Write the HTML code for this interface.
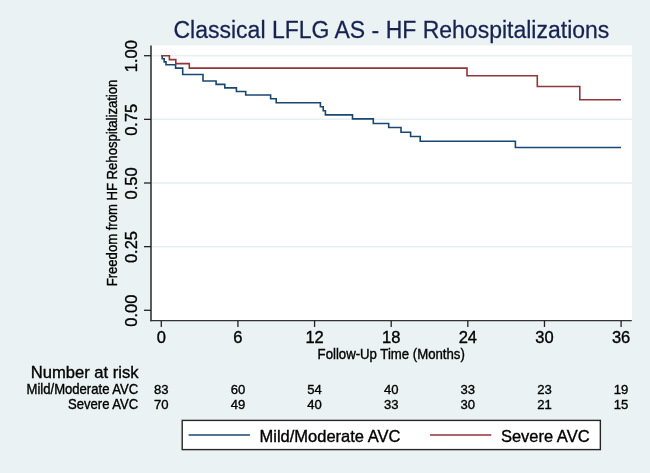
<!DOCTYPE html>
<html><head><meta charset="utf-8">
<style>
html,body{margin:0;padding:0;background:#eaf2f3;}
body{width:650px;height:473px;overflow:hidden;}
svg{display:block;will-change:transform;}
text{font-family:"Liberation Sans",sans-serif;fill:#000;stroke:#000;stroke-width:0.35px;}
</style></head>
<body>
<svg width="650" height="473" viewBox="0 0 650 473">
<rect x="0" y="0" width="650" height="473" fill="#eaf2f3"/>
<text transform="translate(173.5,38.4) scale(1,1.05)" font-size="23" style="fill:#16224f;stroke:#16224f;stroke-width:0.25px">Classical LFLG AS - HF Rehospitalizations</text>
<rect x="151.5" y="45.5" width="480.5" height="274.9" fill="#fff"/>
<g stroke="#e6eff1" stroke-width="1.5">
<line x1="152" y1="246.65" x2="632" y2="246.65"/>
<line x1="152" y1="183.00" x2="632" y2="183.00"/>
<line x1="152" y1="119.35" x2="632" y2="119.35"/>
<line x1="152" y1="55.70" x2="632" y2="55.70"/>
</g>
<g stroke="#222" stroke-width="1.3" fill="none">
<line x1="151" y1="45.5" x2="151" y2="321.3" stroke-width="1.5" stroke="#2a2a2a"/>
<line x1="150.3" y1="320.7" x2="631.8" y2="320.7" stroke="#333"/>
<line x1="144" y1="310.30" x2="151" y2="310.30"/>
<line x1="144" y1="246.65" x2="151" y2="246.65"/>
<line x1="144" y1="183.00" x2="151" y2="183.00"/>
<line x1="144" y1="119.35" x2="151" y2="119.35"/>
<line x1="144" y1="55.70" x2="151" y2="55.70"/>
<line x1="161.30" y1="320.4" x2="161.30" y2="327"/>
<line x1="237.93" y1="320.4" x2="237.93" y2="327"/>
<line x1="314.57" y1="320.4" x2="314.57" y2="327"/>
<line x1="391.20" y1="320.4" x2="391.20" y2="327"/>
<line x1="467.83" y1="320.4" x2="467.83" y2="327"/>
<line x1="544.47" y1="320.4" x2="544.47" y2="327"/>
<line x1="621.10" y1="320.4" x2="621.10" y2="327"/>
</g>
<text transform="translate(137.1,310.7) rotate(-90)" font-size="16.5" text-anchor="middle">0.00</text>
<text transform="translate(137.1,247.05) rotate(-90)" font-size="16.5" text-anchor="middle">0.25</text>
<text transform="translate(137.1,183.4) rotate(-90)" font-size="16.5" text-anchor="middle">0.50</text>
<text transform="translate(137.1,119.75) rotate(-90)" font-size="16.5" text-anchor="middle">0.75</text>
<text transform="translate(137.1,56.1) rotate(-90)" font-size="16.5" text-anchor="middle">1.00</text>
<text transform="translate(117,183) rotate(-90) scale(1,1.05)" font-size="13.1" text-anchor="middle">Freedom from HF Rehospitalization</text>
<text transform="translate(161.3,343.3)" font-size="16.5" text-anchor="middle">0</text>
<text transform="translate(237.93,343.3)" font-size="16.5" text-anchor="middle">6</text>
<text transform="translate(314.57,343.3)" font-size="16.5" text-anchor="middle">12</text>
<text transform="translate(391.2,343.3)" font-size="16.5" text-anchor="middle">18</text>
<text transform="translate(467.83,343.3)" font-size="16.5" text-anchor="middle">24</text>
<text transform="translate(544.47,343.3)" font-size="16.5" text-anchor="middle">30</text>
<text transform="translate(621.1,343.3)" font-size="16.5" text-anchor="middle">36</text>
<text transform="translate(391.2,358.7) scale(1,1.05)" font-size="13.2" text-anchor="middle">Follow-Up Time (Months)</text>
<text transform="translate(138.6,377.6) scale(1,1.03)" font-size="16.6" text-anchor="end">Number at risk</text>
<text transform="translate(138.3,393.9) scale(1,1.05)" font-size="13.1" text-anchor="end">Mild/Moderate AVC</text>
<text transform="translate(138.3,408.6) scale(1,1.05)" font-size="13.1" text-anchor="end">Severe AVC</text>
<text transform="translate(161.3,393.9)" font-size="13.1" text-anchor="middle">83</text>
<text transform="translate(161.3,408.6)" font-size="13.1" text-anchor="middle">70</text>
<text transform="translate(237.93,393.9)" font-size="13.1" text-anchor="middle">60</text>
<text transform="translate(237.93,408.6)" font-size="13.1" text-anchor="middle">49</text>
<text transform="translate(314.57,393.9)" font-size="13.1" text-anchor="middle">54</text>
<text transform="translate(314.57,408.6)" font-size="13.1" text-anchor="middle">40</text>
<text transform="translate(391.2,393.9)" font-size="13.1" text-anchor="middle">40</text>
<text transform="translate(391.2,408.6)" font-size="13.1" text-anchor="middle">33</text>
<text transform="translate(467.83,393.9)" font-size="13.1" text-anchor="middle">33</text>
<text transform="translate(467.83,408.6)" font-size="13.1" text-anchor="middle">30</text>
<text transform="translate(544.47,393.9)" font-size="13.1" text-anchor="middle">23</text>
<text transform="translate(544.47,408.6)" font-size="13.1" text-anchor="middle">21</text>
<text transform="translate(621.1,393.9)" font-size="13.1" text-anchor="middle">19</text>
<text transform="translate(621.1,408.6)" font-size="13.1" text-anchor="middle">15</text>
<g fill="none" stroke-width="1.6">
<path stroke="#1a476f" d="M161.3,55.7 H162.2 V58.8 H164.2 V61.9 H166.0 V64.8 H175.6 V68.1 H182.7 V74.5 H203.0 V81.0 H216.1 V84.4 H224.8 V87.9 H236.4 V91.5 H245.7 V95.0 H270.6 V98.8 H276.2 V102.8 H320.4 V106.7 H323.2 V110.7 H325.4 V114.85 H352.5 V118.9 H373.3 V123.5 H388.7 V127.5 H401.0 V132.2 H410.6 V136.5 H420.2 V141.3 H515.4 V147.5 H621.0"/>
<path stroke="#90353b" d="M161.3,55.7 H169.4 V59.6 H175.8 V63.6 H189.3 V68.1 H467.0 V75.8 H537.3 V86.5 H579.8 V99.7 H621.0"/>
</g>
<rect x="182.2" y="420.4" width="418.15" height="29.2" fill="#fff" stroke="#262626" stroke-width="1.4"/>
<line x1="188.6" y1="435" x2="249.9" y2="435" stroke="#1a476f" stroke-width="1.6"/>
<line x1="430" y1="435" x2="491.3" y2="435" stroke="#90353b" stroke-width="1.6"/>
<text transform="translate(259.5,442.2)" font-size="16.5">Mild/Moderate AVC</text>
<text transform="translate(500.9,442.2)" font-size="16.5">Severe AVC</text>
</svg>
</body></html>
